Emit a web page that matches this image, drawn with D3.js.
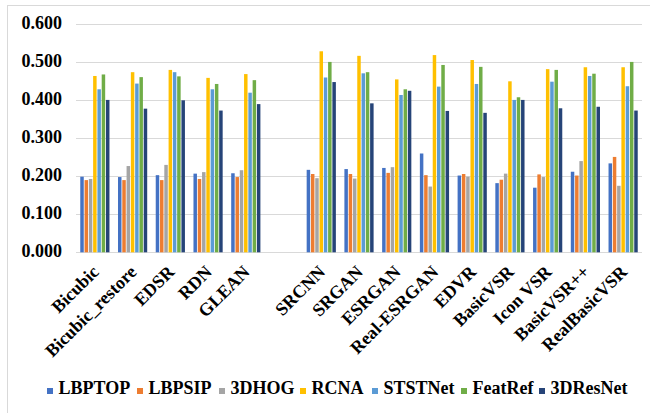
<!DOCTYPE html>
<html><head><meta charset="utf-8">
<script src="https://cdn.jsdelivr.net/npm/d3@7"></script>
<style>body{margin:0;background:#fff}svg{display:block}</style>
</head><body><div id="chart"></div>
<script>
const categories = ["Bicubic","Bicubic_restore","EDSR","RDN","GLEAN","","SRCNN","SRGAN","ESRGAN","Real-ESRGAN","EDVR","BasicVSR","Icon VSR","BasicVSR++","RealBasicVSR"];
const seriesNames = ["LBPTOP","LBPSIP","3DHOG","RCNA","STSTNet","FeatRef","3DResNet"];
const colors = ["#4472C4","#ED7D31","#A5A5A5","#FFC000","#5B9BD5","#70AD47","#264478"];
const LBPTOP   = [0.199,0.198,0.203,0.207,0.208,null,0.217,0.219,0.222,0.260,0.202,0.182,0.170,0.212,0.234];
const LBPSIP   = [0.190,0.190,0.190,0.193,0.198,null,0.206,0.206,0.209,0.203,0.206,0.191,0.205,0.202,0.251];
const HOG3D    = [0.193,0.227,0.230,0.211,0.216,null,0.195,0.194,0.224,0.173,0.199,0.207,0.198,0.240,0.175];
const RCNA     = [0.464,0.474,0.480,0.459,0.469,null,0.529,0.517,0.455,0.519,0.506,0.450,0.482,0.487,0.487];
const STSTNet  = [0.429,0.444,0.474,0.429,0.420,null,0.460,0.471,0.414,0.436,0.443,0.401,0.449,0.464,0.437];
const FeatRef  = [0.468,0.461,0.463,0.443,0.453,null,0.501,0.474,0.429,0.493,0.488,0.408,0.480,0.470,0.501];
const ResNet3D = [0.401,0.378,0.400,0.373,0.390,null,0.448,0.392,0.425,0.372,0.367,0.401,0.379,0.383,0.373];
const yTicks = [0,0.1,0.2,0.3,0.4,0.5,0.6];
const seriesValues = [LBPTOP,LBPSIP,HOG3D,RCNA,STSTNet,FeatRef,ResNet3D];

const W = 650, H = 413;
const FONT = "'Liberation Serif'";
const svg = d3.select("#chart").append("svg").attr("width",W).attr("height",H);
function styleText(sel,size){ sel.style("font-family",FONT).style("font-weight","bold").style("font-size",size+"px").style("fill","#000"); }

svg.append("rect").attr("x",7.5).attr("y",5.5).attr("width",700).attr("height",500).attr("fill","none").attr("stroke","#d9d9d9");

const y = d3.scaleLinear().domain([0,0.6]).range([252.3,24.3]);
const x0 = d3.scaleBand().domain(d3.range(categories.length)).range([76,642]).paddingInner(0.205).paddingOuter(0.1025);
const x1 = d3.scaleBand().domain(d3.range(seriesNames.length)).range([0,x0.bandwidth()]);

svg.append("g").selectAll("line").data(yTicks).join("line")
  .attr("x1",76).attr("x2",642).attr("y1",d=>Math.round(y(d))+0.5).attr("y2",d=>Math.round(y(d))+0.5)
  .attr("stroke","#d9d9d9").attr("stroke-width",1.2);

const yl = svg.append("g").selectAll("text").data(yTicks).join("text")
  .attr("x",62).attr("y",d=>y(d)-1.5).attr("dy","0.35em").attr("text-anchor","end")
  .text(d3.format(".3f"));
styleText(yl,18);

const groups = svg.append("g").selectAll("g").data(categories.map((c,i)=>i)).join("g")
  .attr("transform",i=>`translate(${x0(i)},0)`);
groups.selectAll("rect").data(i=>seriesValues.map((s,k)=>({k,v:s[i]})).filter(d=>d.v!=null)).join("rect")
  .attr("x",d=>x1(d.k)+0.4).attr("width",x1.bandwidth()-0.8)
  .attr("y",d=>y(d.v)).attr("height",d=>y(0)-y(d.v))
  .attr("fill",d=>colors[d.k]);

const cl = svg.append("g").selectAll("text").data(categories.map((c,i)=>({c,i})).filter(d=>d.c!=="")).join("text")
  .attr("transform",d=>`translate(${x0(d.i)+x0.bandwidth()/2+5},273) rotate(-45)`)
  .attr("text-anchor","end").text(d=>d.c);
styleText(cl,18);

const legX = [47,137,219,300,372,461,539];
const leg = svg.append("g").selectAll("g").data(seriesNames.map((n,k)=>({n,k}))).join("g")
  .attr("transform",d=>`translate(${legX[d.k]},0)`);
leg.append("rect").attr("x",0).attr("y",388).attr("width",6).attr("height",6).attr("fill",d=>colors[d.k]);
const lt = leg.append("text").attr("x",11.5).attr("y",394).text(d=>d.n);
styleText(lt,18);
</script></body></html>
